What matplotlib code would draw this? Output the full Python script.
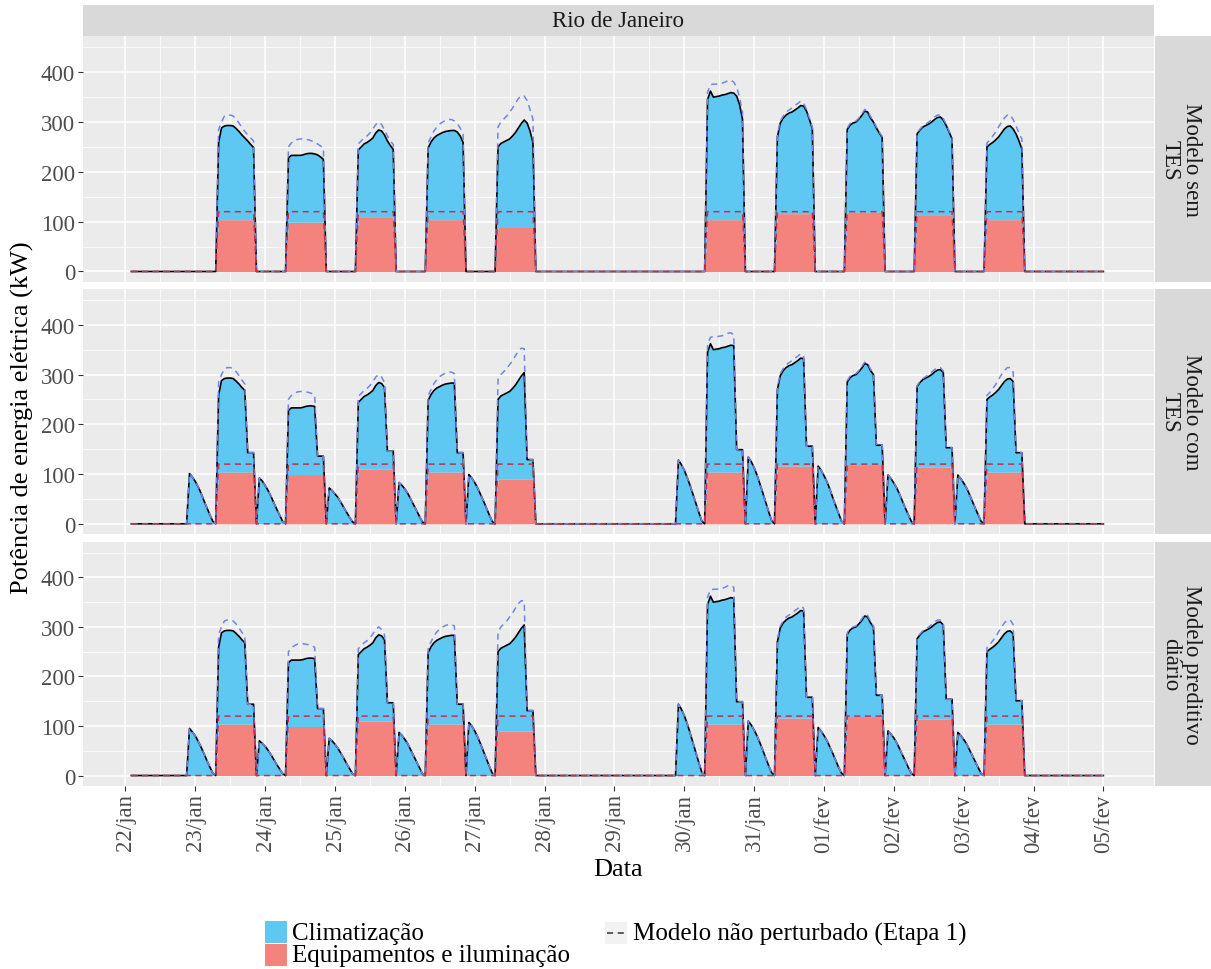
import numpy as np
import matplotlib.pyplot as plt
from matplotlib.patches import Rectangle
from matplotlib.lines import Line2D

plt.rcParams['font.family'] = ['Liberation Serif', 'DejaVu Serif']

# eixo x em horas a partir de 22/jan 00h
day_labels = ['22/jan', '23/jan', '24/jan', '25/jan', '26/jan', '27/jan', '28/jan',
              '29/jan', '30/jan', '31/jan', '01/fev', '02/fev', '03/fev', '04/fev', '05/fev']
work_days = [1, 2, 3, 4, 5, 8, 9, 10, 11, 12]     # dias com ocupacao
night_days = [0, 1, 2, 3, 4, 7, 8, 9, 10, 11]    # noites com carga do TES (22h..6h)
panel_names = ['Modelo sem\nTES', 'Modelo com\nTES', 'Modelo preditivo\ndiário']

# potencia total (kW) das 8h as 20h - modelo sem TES
total_sem_tes = [
    [259, 288, 292, 293, 293, 292, 287, 281, 274, 268, 262, 255, 249],
    [228, 233, 233, 233, 233, 234, 236, 237, 237, 236, 234, 230, 225],
    [244, 250, 256, 259, 263, 268, 278, 284, 282, 274, 262, 253, 245],
    [248, 260, 268, 273, 276, 279, 281, 282, 283, 283, 280, 272, 259],
    [250, 257, 260, 263, 266, 272, 279, 288, 297, 304, 298, 282, 259],
    [345, 362, 350, 351, 352, 354, 355, 357, 359, 358, 352, 335, 306],
    [270, 298, 308, 314, 318, 320, 324, 328, 333, 332, 322, 305, 287],
    [285, 294, 298, 300, 306, 313, 322, 320, 308, 300, 288, 278, 269],
    [276, 284, 290, 293, 296, 300, 305, 309, 310, 304, 293, 280, 266],
    [250, 255, 259, 264, 270, 278, 286, 291, 292, 286, 276, 262, 246],
]
# modelo nao perturbado (Etapa 1), 8h..20h
total_ref = [
    [285, 300, 312, 314, 314, 312, 306, 298, 289, 281, 274, 268, 262],
    [250, 258, 262, 265, 266, 266, 265, 264, 262, 259, 256, 252, 248],
    [256, 262, 268, 272, 278, 286, 295, 300, 295, 284, 272, 262, 255],
    [258, 270, 282, 290, 296, 300, 303, 305, 305, 302, 297, 288, 275],
    [290, 300, 306, 312, 320, 328, 338, 347, 353, 352, 343, 325, 306],
    [360, 375, 376, 376, 377, 378, 380, 383, 384, 380, 370, 350, 320],
    [275, 302, 312, 320, 324, 328, 333, 337, 342, 338, 325, 308, 290],
    [288, 297, 300, 302, 308, 316, 325, 323, 311, 302, 290, 280, 271],
    [278, 286, 292, 296, 300, 305, 310, 314, 314, 307, 295, 282, 268],
    [258, 264, 272, 280, 290, 300, 308, 314, 314, 305, 292, 278, 266],
]
equip = [104, 99, 110, 104, 90, 104, 116, 119, 114, 104]
equip_ref = [120, 120, 120, 120, 120, 120, 120, 120, 120, 120]

# patamar no fim do expediente (18h..20h)
step_com_tes = [143, 136, 146, 143, 129, 149, 156, 158, 153, 143]
step_pred = [144, 135, 147, 144, 131, 149, 158, 162, 154, 151]

# carga noturna 22h..6h
night_com_tes = [
    [101, 94, 85, 74, 61, 46, 32, 18, 5],
    [92, 86, 77, 67, 55, 42, 29, 17, 5],
    [72, 67, 60, 53, 43, 33, 23, 13, 4],
    [83, 77, 70, 61, 50, 38, 27, 15, 4],
    [99, 92, 83, 72, 59, 46, 32, 18, 5],
    [128, 119, 108, 93, 77, 59, 41, 23, 6],
    [134, 125, 113, 98, 80, 62, 43, 24, 7],
    [116, 108, 97, 85, 70, 53, 37, 21, 6],
    [98, 91, 82, 72, 59, 45, 31, 18, 5],
    [98, 91, 82, 72, 59, 45, 31, 18, 5],
]
night_pred = [
    [95, 88, 80, 69, 57, 44, 30, 17, 5],
    [70, 65, 59, 51, 42, 32, 22, 13, 4],
    [75, 70, 63, 55, 45, 35, 24, 14, 4],
    [87, 81, 73, 64, 52, 40, 28, 16, 4],
    [107, 100, 90, 78, 64, 49, 34, 19, 5],
    [144, 134, 121, 105, 86, 66, 46, 26, 7],
    [110, 102, 92, 80, 66, 51, 35, 20, 6],
    [97, 90, 81, 71, 58, 45, 31, 17, 5],
    [90, 84, 76, 66, 54, 41, 29, 16, 5],
    [87, 81, 73, 64, 52, 40, 28, 16, 4],
]

hours = np.arange(2, 337)


def idx(h):
    return h - hours[0]


def build(steps=None, nights=None):
    tot = np.zeros(len(hours))
    ref = np.zeros(len(hours))
    eq = np.zeros(len(hours))
    eq_ref = np.zeros(len(hours))
    for k, d in enumerate(work_days):
        for j, hh in enumerate(range(8, 21)):
            i = idx(d * 24 + hh)
            eq[i] = equip[k]
            eq_ref[i] = equip_ref[k]
            if steps is not None and hh >= 18:
                tot[i] = steps[k]
                ref[i] = steps[k]
            else:
                tot[i] = total_sem_tes[k][j]
                ref[i] = total_ref[k][j]
    if nights is not None:
        for k, d in enumerate(night_days):
            for j, v in enumerate(nights[k]):
                i = idx(d * 24 + 22 + j)
                tot[i] = v
                ref[i] = v
    return tot, ref, eq, eq_ref


series = [build(), build(step_com_tes, night_com_tes), build(step_pred, night_pred)]

blue = '#5EC8F2'
red = '#F4827D'
blue_dash = '#6F86E6'
red_dash = '#D02A45'

W, H = 1211, 970
fig = plt.figure(figsize=(W / 100, H / 100), dpi=100)

left_px, right_px = 82.7, 1154.3
rows = [(37.3, 282.7), (290.0, 535.0), (542.7, 786.7)]

for p, (top, bot) in enumerate(rows):
    ax = fig.add_axes([left_px / W, 1 - bot / H, (right_px - left_px) / W, (bot - top) / H])
    tot, ref, eq, eq_ref = series[p]
    ax.set_facecolor('#EBEBEB')
    ax.fill_between(hours, 0, eq, color=red, lw=0, zorder=2)
    ax.fill_between(hours, eq, tot, color=blue, lw=0, zorder=2)
    ax.plot(hours, tot, color='black', lw=1.2, zorder=3)
    ax.plot(hours, ref, color=blue_dash, lw=1.1, dashes=(4, 3), zorder=4)
    ax.plot(hours, eq_ref, color=red_dash, lw=1.1, dashes=(4, 3), zorder=4)

    ax.set_xlim(-14.7, 353.5)
    ax.set_ylim(-20.5, 472)
    ax.set_xticks(np.arange(0, 337, 24))
    ax.set_xticks(np.arange(12, 337, 24), minor=True)
    ax.set_yticks([0, 100, 200, 300, 400])
    ax.set_yticks([50, 150, 250, 350, 450], minor=True)
    ax.grid(which='major', color='white', lw=1.1, zorder=0)
    ax.grid(which='minor', color='white', lw=0.55, zorder=0)
    ax.set_axisbelow(True)
    for s in ax.spines.values():
        s.set_visible(False)
    ax.tick_params(which='major', length=3.5, width=0.8, color='#333333',
                   labelsize=16.5, labelcolor='#4D4D4D', pad=2)
    ax.tick_params(which='minor', length=0)
    if p == 2:
        ax.set_xticklabels(day_labels, rotation=90)
    else:
        ax.tick_params(axis='x', which='major', length=0, labelbottom=False)

    # faixa lateral
    sax = fig.add_axes([1155 / W, 1 - bot / H, 56 / W, (bot - top) / H])
    sax.set_facecolor('#D9D9D9')
    sax.set_xticks([])
    sax.set_yticks([])
    for s in sax.spines.values():
        s.set_visible(False)
    sax.text(26 / 56, 0.5, panel_names[p], rotation=-90, ha='center', va='center',
             multialignment='center', fontsize=16.5, color='#1A1A1A',
             transform=sax.transAxes, linespacing=1.0)

# faixa superior
tax = fig.add_axes([left_px / W, 1 - 37.3 / H, (right_px - left_px) / W, 31.3 / H])
tax.set_facecolor('#D9D9D9')
tax.set_xticks([])
tax.set_yticks([])
for s in tax.spines.values():
    s.set_visible(False)
tax.text(0.5, 0.5, 'Rio de Janeiro', ha='center', va='center', fontsize=16.5,
         color='#1A1A1A', transform=tax.transAxes)

fig.text(618 / W, 1 - 870 / H, 'Data', ha='center', va='center', fontsize=19)
fig.text(22 / W, 1 - 418 / H, 'Potência de energia elétrica (kW)', ha='center', va='center',
         rotation=90, fontsize=19)

# legenda
fig.add_artist(Rectangle((265 / W, 1 - 944 / H), 22 / W, 22 / H, facecolor=blue,
                         edgecolor='none', transform=fig.transFigure))
fig.add_artist(Rectangle((265 / W, 1 - 967 / H), 22 / W, 22 / H, facecolor=red,
                         edgecolor='none', transform=fig.transFigure))
fig.text(292 / W, 1 - 934 / H, 'Climatização', ha='left', va='center', fontsize=18)
fig.text(292 / W, 1 - 956 / H, 'Equipamentos e iluminação', ha='left', va='center', fontsize=18)
fig.add_artist(Rectangle((605 / W, 1 - 945 / H), 22 / W, 22 / H, facecolor='#F2F2F2',
                         edgecolor='none', transform=fig.transFigure))
fig.add_artist(Line2D([607 / W, 625 / W], [1 - 934 / H, 1 - 934 / H], color='#333333', lw=1.1,
                      dashes=(4, 3), transform=fig.transFigure))
fig.text(633 / W, 1 - 934 / H, 'Modelo não perturbado (Etapa 1)', ha='left', va='center',
         fontsize=18)

fig.savefig('out.png', dpi=100)
